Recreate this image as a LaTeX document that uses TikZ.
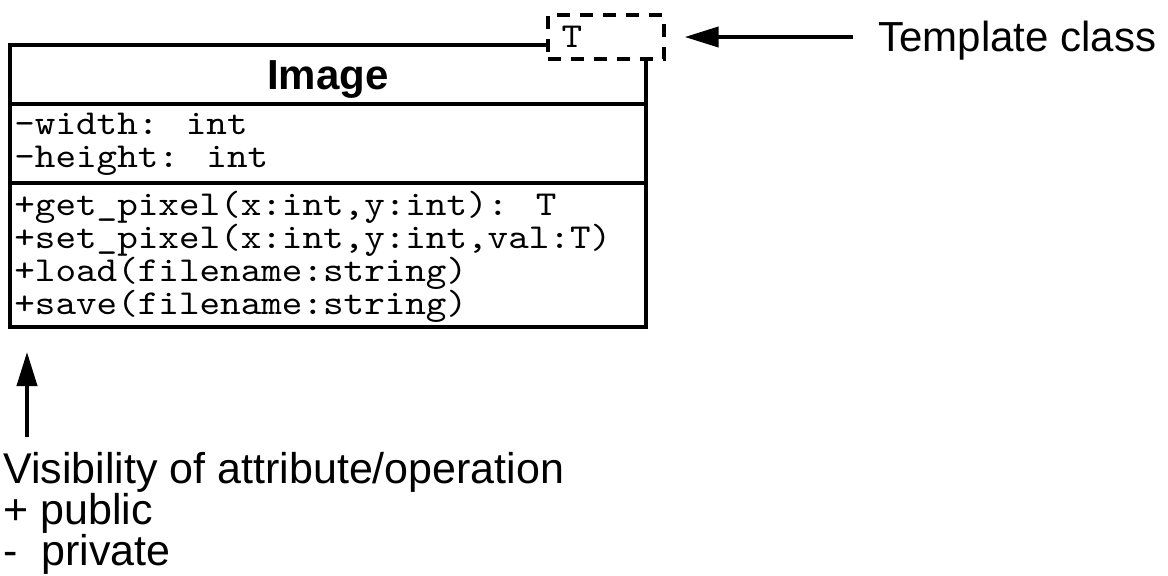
\documentclass[tikz,border=0pt]{standalone}
\usepackage{fontspec}
\setmainfont{Liberation Sans}
\newfontfamily\umlmono{lmmono10-regular}[Extension=.otf, FakeStretch=1.12]
\usetikzlibrary{arrows.meta}

\tikzset{
  umlline/.style={line width=2pt},
  mono/.style={font={\umlmono\fontsize{17.5pt}{16.5pt}\selectfont\lineskiplimit=-20pt}, inner sep=0pt, align=left},
  note/.style={font={\fontsize{21pt}{19pt}\selectfont\lineskiplimit=-20pt}, inner sep=0pt, align=left},
  tplbox/.style={draw, line width=2pt, dash pattern=on 6.5pt off 5pt,
    minimum height=21.7pt, text width=44pt, inner xsep=7pt, inner ysep=0pt,
    align=left, font=\umlmono\fontsize{17.5pt}{16.5pt}\selectfont}
}

\begin{document}
\begin{tikzpicture}[x=0.5pt, y=-0.5pt, >={Triangle[length=17pt, width=10pt]}]
      \useasboundingbox (0, 0) rectangle (1168, 575);

      \node[tplbox] (tpl) at (605.7, 37) {T};
      \coordinate (cnw) at (10, 45);
      \coordinate (cse) at (646, 327);

      \draw[umlline] (tpl.west |- cnw) -- (cnw) |- (cse) -- (cse |- tpl.south);
      \draw[umlline] (cnw |- 0, 104) -- (cse |- 0, 104);
      \draw[umlline] (cnw |- 0, 183) -- (cse |- 0, 183);

      % base = last line of each block
      \node[note, font=\bfseries\fontsize{21pt}{21pt}\selectfont, anchor=base] (name) at (328, 89) {Image};
      \node[mono, anchor=base west] (attrs) at (14, 167) {-width: int\\-height: int};
      \node[mono, anchor=base west] (ops) at (14, 314)
        {+get\_pixel(x:int,y:int): T\\+set\_pixel(x:int,y:int,val:T)\\+load(filename:string)\\+save(filename:string)};

      \node[note, anchor=base west] (tcls) at (878, 51) {Template class};
      \draw[umlline, ->, shorten <=12.5pt, shorten >=9.5pt] (tcls.west |- tpl.east) -- (tpl.east);

      \node[note, font={\fontsize{21.5pt}{20.5pt}\selectfont}, anchor=base west] (vis) at (3, 565)
        {Visibility of attribute/operation\\+ public\\-\ \ private};
      \coordinate (vtip) at (27, 352);
      \draw[umlline, ->, shorten <=7.3pt] (vis.north -| vtip) -- (vtip);
    \end{tikzpicture}
\end{document}
